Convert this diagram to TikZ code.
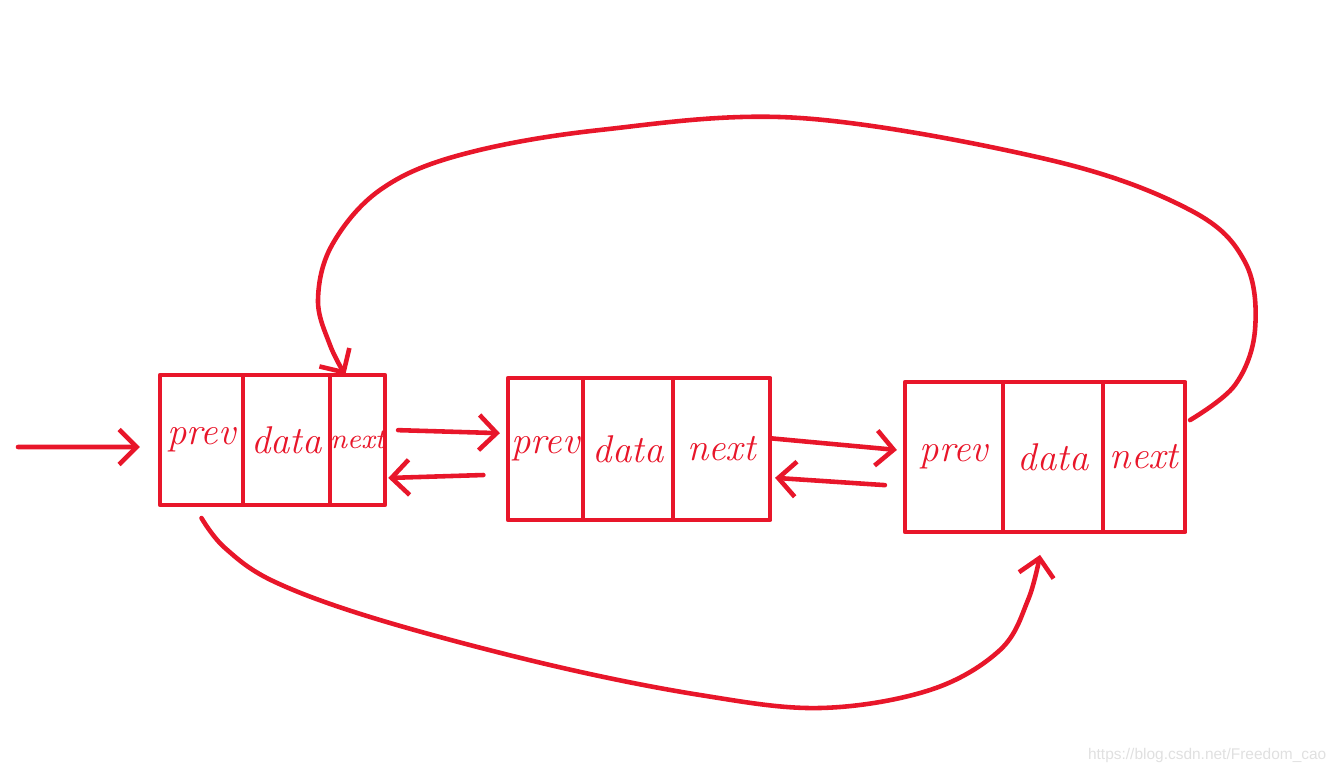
\documentclass[tikz,border=0pt]{standalone}
\usepackage{fontspec}
\newfontfamily\markfont{Liberation Sans}
\usetikzlibrary{arrows.meta,positioning}
\definecolor{penred}{RGB}{232,22,42}

\begin{document}
\begin{tikzpicture}[x=0.01cm,y=-0.01cm,
    pen/.style={penred, line width=1.3pt, line cap=round, line join=round},
    cell/.style={pen, draw, inner sep=0pt, outer sep=0pt, text=penred,
      font=\fontsize{11}{12}\selectfont\itshape},
    link/.style={pen, -{Straight Barb[length=5pt,width=10pt]}}]
      \useasboundingbox (0,0) rectangle (1336,773);

      % First node
      \node[cell, minimum width=0.83cm, minimum height=1.30cm] (prev1) at (201.5,440) {prev};
      \node[cell, minimum width=0.87cm, minimum height=1.30cm, right=0pt of prev1] (data1) {data};
      \node[cell, minimum width=0.55cm, minimum height=1.30cm, right=0pt of data1,
        font=\fontsize{8}{9}\selectfont\itshape] (next1) {next};

      % Second node
      \node[cell, minimum width=0.75cm, minimum height=1.42cm] (prev2) at (545.5,449) {prev};
      \node[cell, minimum width=0.90cm, minimum height=1.42cm, right=0pt of prev2] (data2) {data};
      \node[cell, minimum width=0.97cm, minimum height=1.42cm, right=0pt of data2] (next2) {next};

      % Third node
      \node[cell, minimum width=0.98cm, minimum height=1.50cm] (prev3) at (954,457) {prev};
      \node[cell, minimum width=1.00cm, minimum height=1.50cm, right=0pt of prev3] (data3) {data};
      \node[cell, minimum width=0.82cm, minimum height=1.50cm, right=0pt of data3] (next3) {next};

      % Head pointer
      \coordinate (head) at (18,447);
      \draw[link] (head) -- ([xshift=-5.7pt, yshift=-2pt]prev1.west);

      % Links between neighbours
      \draw[link] ([xshift=3.7pt, yshift=2.8pt]next1.east) -- ([xshift=-2.3pt, yshift=4.5pt]prev2.west);
      \draw[link] ([xshift=-7pt, yshift=-7.4pt]prev2.west) -- ([xshift=0.9pt, yshift=-10.8pt]next1.east);
      \draw[link] ([xshift=0.6pt, yshift=3pt]next2.east) -- ([xshift=-2.3pt, yshift=2pt]prev3.west);
      \draw[link] ([xshift=-5.7pt, yshift=-8pt]prev3.west) -- ([xshift=1.4pt, yshift=-8.2pt]next2.east);

      % Last next back to the first node
      \draw[link] plot[smooth, tension=0.6] coordinates {([xshift=1.4pt, yshift=10.5pt]next3.east)
        (1235,385) (1255,330) (1245,262) (1190,210) (1050,160) (800,118) (600,130)
        (460,155) (380,190) (332,245) (318,300) (330,345) ([xshift=-3.5pt]next1.north)};

      % First prev round to the last node
      \draw[link] plot[smooth, tension=0.6] coordinates {([yshift=-3.7pt]prev1.south)
        (225,548) (275,582) (380,620) (550,665) (700,695) (820,708) (930,690)
        (1000,650) (1028,600) ([xshift=-3.7pt, yshift=-6.5pt]data3.south)};

      % Watermark
      \node[font=\markfont\fontsize{4.4}{5}\selectfont, text=black!12, anchor=east, inner sep=0pt]
        (mark) at (1327,755) {https://blog.csdn.net/Freedom\_cao};
\end{tikzpicture}
\end{document}
